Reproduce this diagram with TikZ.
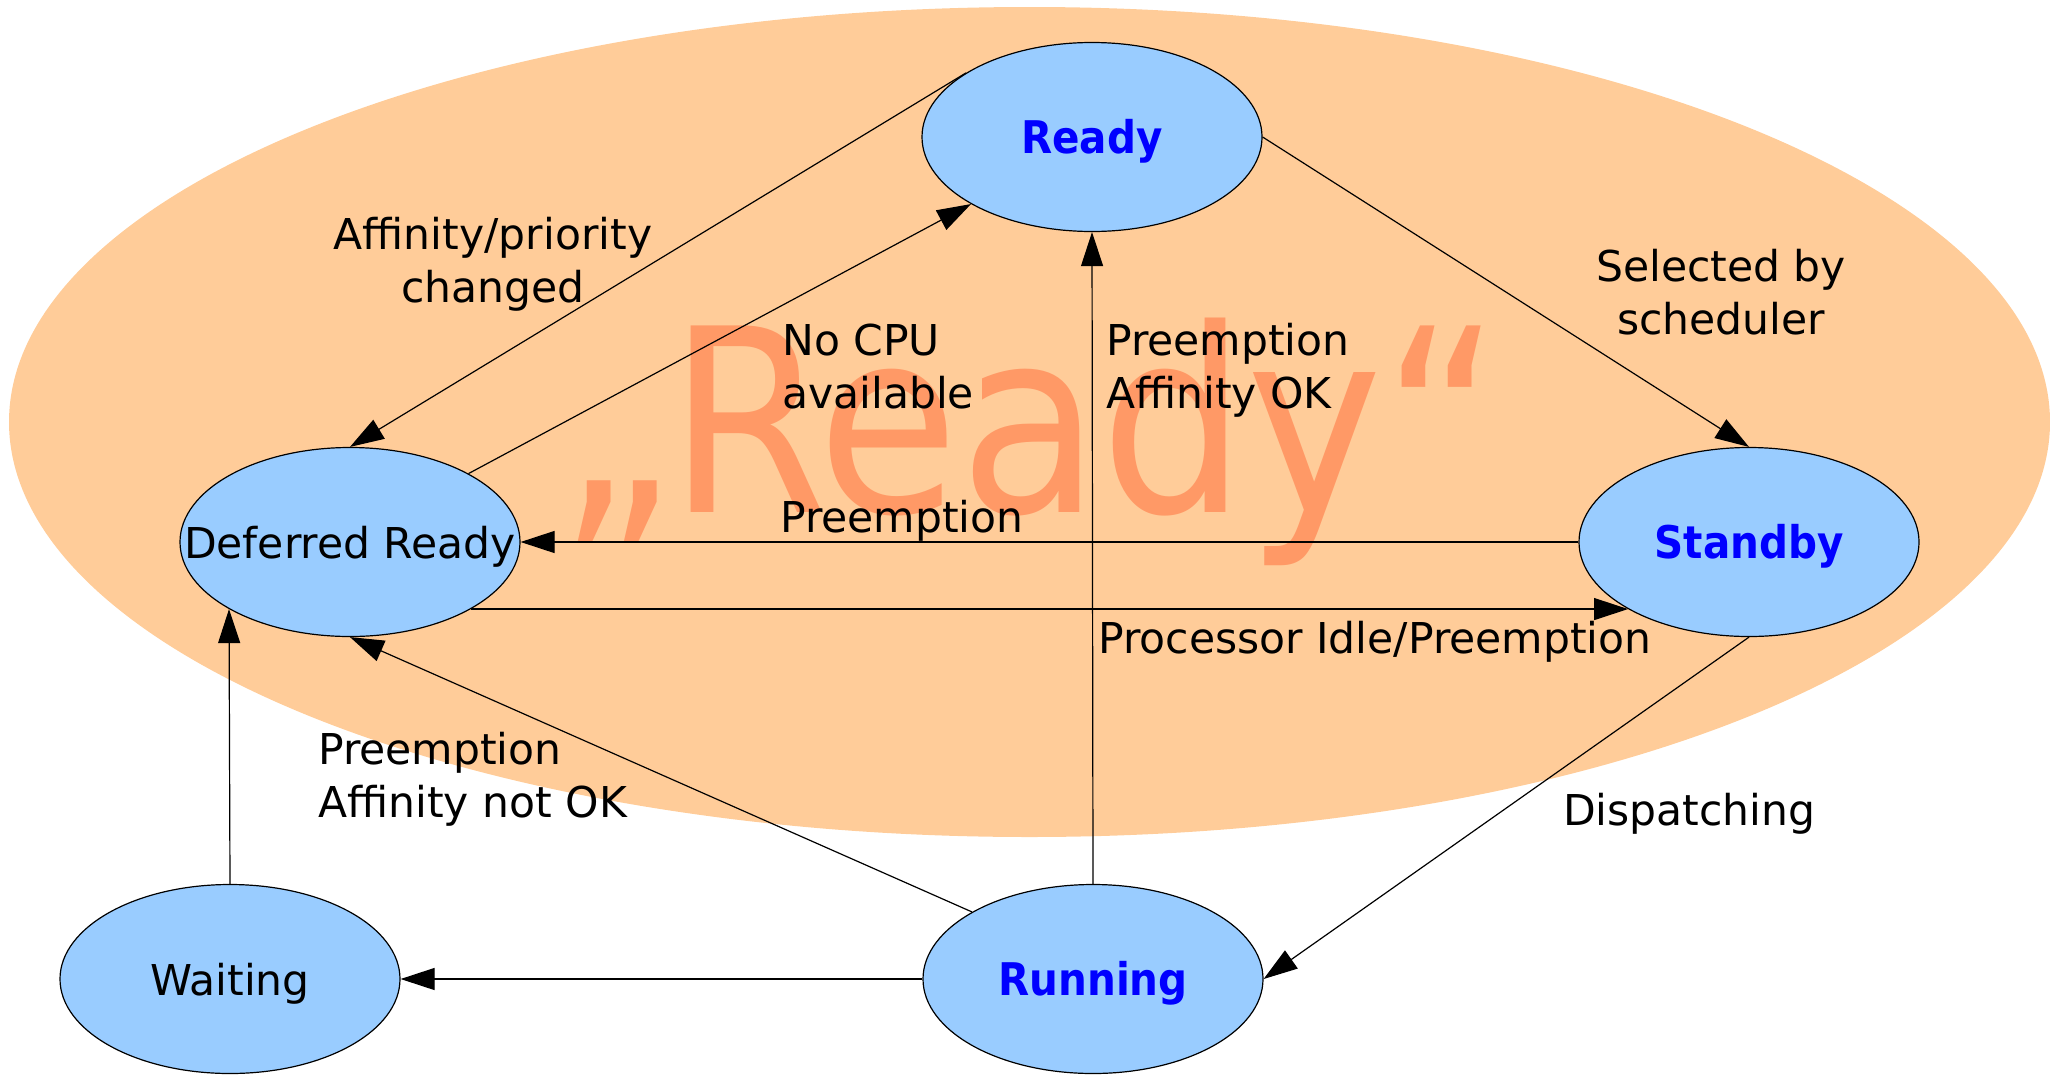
\documentclass[tikz,border=0pt]{standalone}
\usepackage{fontspec}
\setmainfont{DejaVu Sans}
\newfontfamily\keyfont{DejaVu Sans Condensed}
\usetikzlibrary{shapes.geometric,arrows.meta}
\definecolor{haloorange}{HTML}{FFCC99}
\definecolor{stateblue}{HTML}{99CCFF}
\definecolor{markorange}{HTML}{FF9966}
\definecolor{namedblue}{HTML}{0000FF}
\newcommand{\lblfont}{\fontsize{42.5}{53}\selectfont}

\begin{document}
\begin{tikzpicture}[x=1pt, y=-1pt,
    state/.style={ellipse, draw, line width=1.2pt, fill=stateblue,
      minimum width=340pt, minimum height=189pt, inner xsep=-70pt, inner ysep=0pt,
      text height=43pt, text depth=11pt, font=\lblfont},
    keystate/.style={state, font=\keyfont\fontsize{45}{53}\selectfont\bfseries, text=namedblue},
    flow/.style={-{Triangle[length=34pt,width=22pt]}, line width=1.2pt},
    lbl/.style={font=\lblfont, inner sep=0pt}]
    \useasboundingbox (0,0) rectangle (2050,1074);

    % Orange group of the ready-like states
    \fill[haloorange] (1029.5,422) ellipse [x radius=1020.5, y radius=415];
    \node[font=\keyfont\fontsize{256}{256}\selectfont, text=markorange, anchor=base, inner sep=0pt]
        (mark) at (1030,512) {„Ready“};

    % States
    \node[keystate] (ready) at (1092,137) {Ready};
    \node[state] (deferred) at (350,542) {Deferred Ready};
    \node[keystate] (standby) at (1749,542) {Standby};
    \node[state] (waiting) at (230,979) {Waiting};
    \node[keystate] (running) at (1093,979) {Running};

    % Transitions
    \draw[flow] (ready.153) -- (deferred.north);
    \draw[flow] (deferred.30) -- (ready.209);
    \draw[flow] (ready.east) -- (standby.north);
    \draw[flow] (standby.west) -- (deferred.east);
    \draw[flow] (deferred.-29) -- (standby.209);
    \draw[flow] (standby.south) -- (running.east);
    \draw[flow] (running.north) -- (ready.south);
    \draw[flow] (running.151) -- (deferred.south);
    \draw[flow] (waiting.north) -- (deferred.209);
    \draw[flow] (running.west) -- (waiting.east);

    % Transition labels (base = last line)
    \node[lbl, align=center, anchor=base] (affinity) at (493,302) {Affinity/priority\\changed};
    \node[lbl, align=left, anchor=base west] (nocpu) at (782,408) {No CPU\\available};
    \node[lbl, align=left, anchor=base west] (affok) at (1106,408) {Preemption\\Affinity OK};
    \node[lbl, anchor=base west] (preempt) at (780,532) {Preemption};
    \node[lbl, anchor=base west] (idle) at (1098,653) {Processor Idle/Preemption};
    \node[lbl, align=center, anchor=base] (selected) at (1721,334) {Selected by\\scheduler};
    \node[lbl, align=left, anchor=base west] (affnot) at (318,817) {Preemption\\Affinity not OK};
    \node[lbl, anchor=base west] (dispatch) at (1563,825) {Dispatching};
\end{tikzpicture}
\end{document}
